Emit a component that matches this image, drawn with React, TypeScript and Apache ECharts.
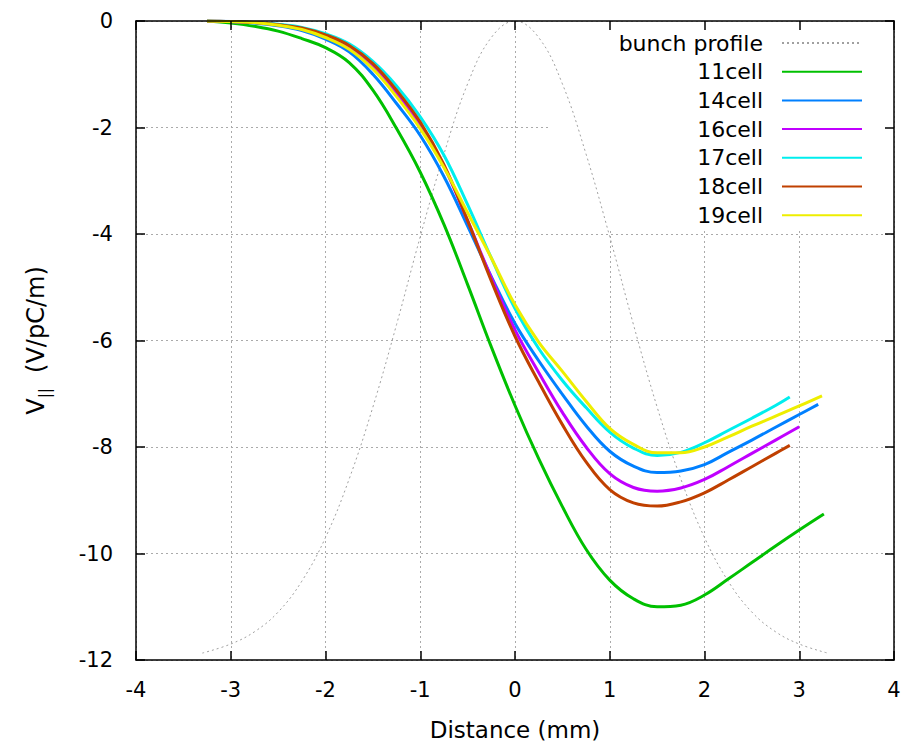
import React, { useEffect, useRef } from "react";
import * as echarts from "echarts";

// ---- data ----
const xTicks = [-4, -3, -2, -1, 0, 1, 2, 3, 4];
const yTicks = [0, -2, -4, -6, -8, -10, -12];

const seriesNames = ["bunch profile", "11cell", "14cell", "16cell", "17cell", "18cell", "19cell"];
const seriesColors = ["#a0a0a0", "#00c000", "#0080ff", "#c000ff", "#00eeee", "#c04000", "#eeee00"];

const bunchProfile: number[][] = [
  [-3.3, -11.87], [-3, -11.7], [-2.75, -11.47], [-2.5, -11.1], [-2.25, -10.52], [-2, -9.7],
  [-1.75, -8.6], [-1.5, -7.25], [-1.25, -5.7], [-1, -4.05], [-0.75, -2.5], [-0.5, -1.18],
  [-0.25, -0.31], [0, 0], [0.25, -0.31], [0.5, -1.18], [0.75, -2.5], [1, -4.05], [1.25, -5.7],
  [1.5, -7.25], [1.75, -8.6], [2, -9.7], [2.25, -10.52], [2.5, -11.1], [2.75, -11.47],
  [3, -11.7], [3.3, -11.87],
];

const cell11: number[][] = [
  [-3.25, 0], [-3, -0.04], [-2.75, -0.1], [-2.5, -0.19], [-2.25, -0.33], [-2, -0.5],
  [-1.75, -0.78], [-1.5, -1.3], [-1.25, -2.02], [-1, -2.84], [-0.75, -3.82], [-0.5, -4.95],
  [-0.25, -6.12], [0, -7.22], [0.25, -8.22], [0.5, -9.12], [0.75, -9.92], [1, -10.5],
  [1.25, -10.85], [1.5, -11.0], [1.75, -10.97], [2, -10.78], [2.25, -10.48], [2.5, -10.17],
  [2.75, -9.86], [3, -9.56], [3.26, -9.26],
];

const cell14: number[][] = [
  [-3.25, 0], [-3, -0.01], [-2.75, -0.04], [-2.5, -0.09], [-2.25, -0.18], [-2, -0.34],
  [-1.75, -0.58], [-1.5, -1.0], [-1.25, -1.55], [-1, -2.15], [-0.75, -2.92], [-0.5, -3.85],
  [-0.25, -4.8], [0, -5.68], [0.25, -6.38], [0.5, -7.01], [0.75, -7.6], [1, -8.08],
  [1.25, -8.36], [1.5, -8.48], [1.75, -8.45], [2, -8.33], [2.25, -8.1], [2.5, -7.87],
  [2.75, -7.63], [3, -7.39], [3.2, -7.2],
];

const cell16: number[][] = [
  [-3.25, 0], [-3, -0.01], [-2.75, -0.03], [-2.5, -0.07], [-2.25, -0.14], [-2, -0.28],
  [-1.75, -0.49], [-1.5, -0.85], [-1.25, -1.35], [-1, -1.95], [-0.75, -2.73], [-0.5, -3.75],
  [-0.25, -4.82], [0, -5.8], [0.25, -6.6], [0.5, -7.35], [0.75, -8.0], [1, -8.5],
  [1.25, -8.76], [1.5, -8.83], [1.75, -8.77], [2, -8.61], [2.25, -8.37], [2.5, -8.12],
  [2.75, -7.87], [3, -7.62],
];

const cell17: number[][] = [
  [-3.25, 0], [-3, -0.01], [-2.75, -0.03], [-2.5, -0.06], [-2.25, -0.12], [-2, -0.24],
  [-1.75, -0.43], [-1.5, -0.76], [-1.25, -1.22], [-1, -1.8], [-0.75, -2.52], [-0.5, -3.45],
  [-0.25, -4.45], [0, -5.4], [0.25, -6.15], [0.5, -6.75], [0.75, -7.26], [1, -7.72],
  [1.25, -8.02], [1.5, -8.16], [1.75, -8.1], [2, -7.92], [2.25, -7.69], [2.5, -7.46],
  [2.75, -7.22], [2.9, -7.06],
];

const cell18: number[][] = [
  [-3.25, 0], [-3, -0.01], [-2.75, -0.03], [-2.5, -0.07], [-2.25, -0.13], [-2, -0.26],
  [-1.75, -0.46], [-1.5, -0.8], [-1.25, -1.3], [-1, -1.9], [-0.75, -2.7], [-0.5, -3.75],
  [-0.25, -4.88], [0, -5.92], [0.25, -6.78], [0.5, -7.58], [0.75, -8.28], [1, -8.8],
  [1.25, -9.05], [1.5, -9.11], [1.75, -9.03], [2, -8.86], [2.25, -8.62], [2.5, -8.37],
  [2.75, -8.12], [2.9, -7.97],
];

const cell19: number[][] = [
  [-3.25, 0], [-3, -0.01], [-2.75, -0.03], [-2.5, -0.08], [-2.25, -0.16], [-2, -0.31],
  [-1.75, -0.53], [-1.5, -0.9], [-1.25, -1.42], [-1, -2.02], [-0.75, -2.75], [-0.5, -3.6],
  [-0.25, -4.45], [0, -5.33], [0.25, -6.03], [0.5, -6.58], [0.75, -7.14], [1, -7.65],
  [1.25, -7.95], [1.5, -8.11], [1.75, -8.11], [2, -8.0], [2.25, -7.81], [2.5, -7.61],
  [2.75, -7.42], [3, -7.23], [3.24, -7.04],
];

const seriesData = [bunchProfile, cell11, cell14, cell16, cell17, cell18, cell19];

const FONT = "DejaVu Sans";

export default function App() {
  const ref = useRef<HTMLDivElement>(null);

  useEffect(() => {
    document.body.style.margin = "0";
    if (!ref.current) return;
    const chart = echarts.init(ref.current, undefined, { renderer: "svg" });

    const xMin = xTicks[0];
    const xMax = xTicks[xTicks.length - 1];
    const yMin = yTicks[yTicks.length - 1];
    const yMax = yTicks[0];

    const tickStyle = { show: true, inside: true, length: 9, lineStyle: { color: "#000", width: 1.5 } };
    const axisLineStyle = { show: true, onZero: false, lineStyle: { color: "#000", width: 1.5 } };
    const gridLine = { show: true, lineStyle: { color: "#aaaaaa", width: 1, type: [2, 3] } };

    const series: any[] = seriesNames.map((name, i) => ({
      name,
      type: "line",
      data: seriesData[i],
      symbol: "none",
      smooth: 0.4,
      xAxisIndex: 0,
      yAxisIndex: 0,
      z: 2,
      lineStyle:
        i === 0
          ? { color: seriesColors[i], width: 1, type: [2, 3] }
          : { color: seriesColors[i], width: 3 },
      itemStyle: { color: seriesColors[i] },
    }));

    chart.setOption({
      animation: false,
      backgroundColor: "#fff",
      grid: { left: 136, right: 20, top: 21, bottom: 85, containLabel: false },
      graphic: [
        {
          type: "rect",
          z: 1,
          shape: { x: 548, y: 22, width: 345, height: 207 },
          style: { fill: "#fff" },
          silent: true,
        },
      ],
      legend: {
        orient: "vertical",
        right: 51,
        top: 32,
        align: "right",
        padding: 0,
        itemWidth: 80,
        itemHeight: 1,
        itemGap: 6.7,
        data: seriesNames,
        itemStyle: { opacity: 0 },
        textStyle: {
          fontFamily: FONT,
          fontSize: 22,
          lineHeight: 22,
          color: "#000",
          padding: [0, 14, 0, 0],
        },
      },
      xAxis: [
        {
          type: "value",
          min: xMin,
          max: xMax,
          interval: 1,
          position: "bottom",
          z: 0,
          axisLine: axisLineStyle,
          axisTick: tickStyle,
          splitLine: gridLine,
          axisLabel: { fontFamily: FONT, fontSize: 21, color: "#000", margin: 19 },
          name: "Distance (mm)",
          nameLocation: "middle",
          nameGap: 58,
          nameTextStyle: { fontFamily: FONT, fontSize: 23, color: "#000" },
        },
        {
          type: "value",
          min: xMin,
          max: xMax,
          interval: 1,
          position: "top",
          z: 3,
          axisLine: axisLineStyle,
          axisTick: tickStyle,
          splitLine: { show: false },
          axisLabel: { show: false },
        },
      ],
      yAxis: [
        {
          type: "value",
          min: yMin,
          max: yMax,
          interval: 2,
          position: "left",
          z: 0,
          axisLine: axisLineStyle,
          axisTick: tickStyle,
          splitLine: gridLine,
          axisLabel: { fontFamily: FONT, fontSize: 21, color: "#000", margin: 23 },
          name: "{v|V}{s|||}{t|  (V/pC/m)}",
          nameLocation: "middle",
          nameGap: 84,
          nameTextStyle: {
            fontFamily: FONT,
            fontSize: 24,
            color: "#000",
            rich: {
              v: { fontFamily: FONT, fontSize: 24, color: "#000", verticalAlign: "bottom", lineHeight: 32, padding: [0, 0, 4, 0] },
              s: { fontFamily: FONT, fontSize: 15, color: "#000", verticalAlign: "bottom", lineHeight: 32 },
              t: { fontFamily: FONT, fontSize: 24, color: "#000", verticalAlign: "bottom", lineHeight: 32, padding: [0, 0, 4, 0] },
            },
          },
        },
        {
          type: "value",
          min: yMin,
          max: yMax,
          interval: 2,
          position: "right",
          z: 3,
          axisLine: axisLineStyle,
          axisTick: tickStyle,
          splitLine: { show: false },
          axisLabel: { show: false },
        },
      ],
      series,
    });

    return () => chart.dispose();
  }, []);

  return <div ref={ref} style={{ width: 914, height: 746 }} />;
}
